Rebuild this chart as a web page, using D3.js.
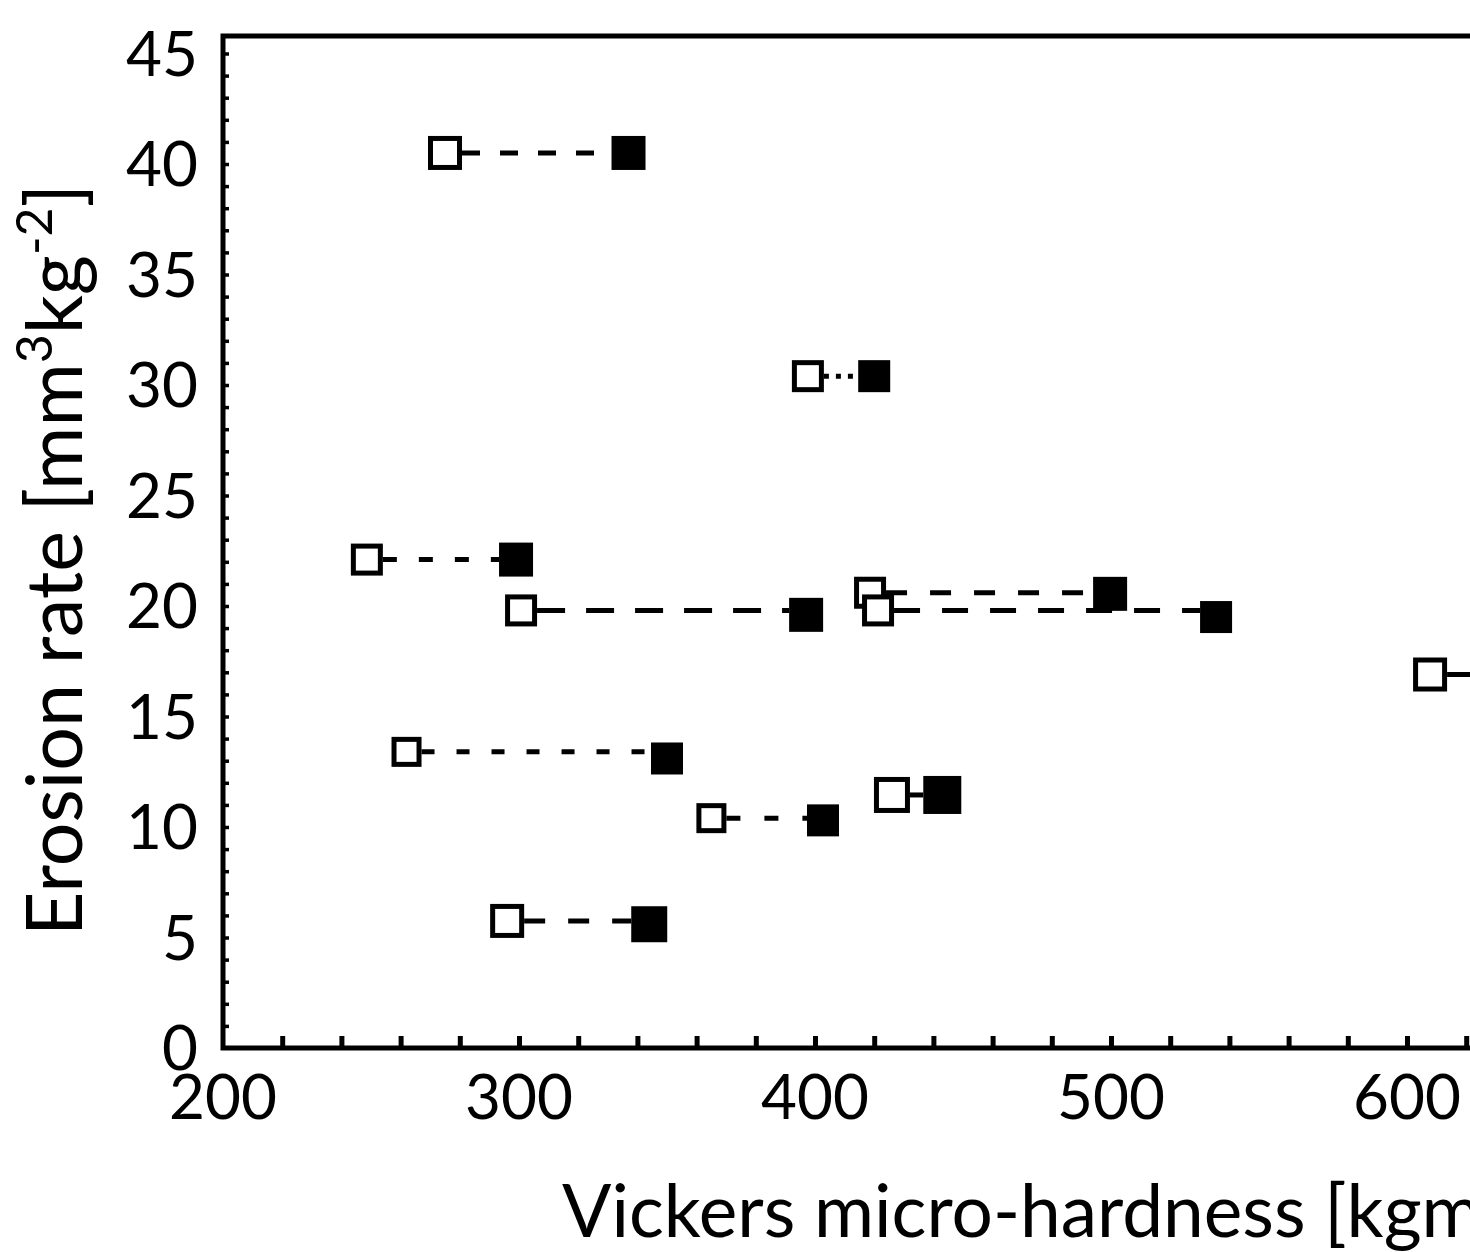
<!DOCTYPE html>
<html><head><meta charset="utf-8">
<script src="https://cdn.jsdelivr.net/npm/d3@7"></script>
<style>body{margin:0;background:#fff}svg{display:block}</style>
</head><body>
<svg id="c" width="1470" height="1252"></svg>
<script>
(function(){
// ---- data ----
const openX   = [275, 397.6, 248.6, 300.7, 418.6, 421.3, 607.8, 262, 365, 426, 296];
const openY   = [40.5, 30.4, 22.1, 19.8, 20.6, 19.8, 16.9, 13.4, 10.4, 11.45, 5.75];
const filledX = [337, 420, 299, 397, 499.7, 535.5, 660, 350, 402.7, 443, 344];
const filledY = [40.5, 30.4, 22.1, 19.6, 20.55, 19.5, 16.9, 13.1, 10.3, 11.45, 5.6];
const xTickLabels = [200, 300, 400, 500, 600];
const yTickLabels = [0, 5, 10, 15, 20, 25, 30, 35, 40, 45];
const xMinorTicks = d3.range(220, 700, 20);
const yMinorTicks = d3.range(1, 46, 1);
const xTitle = "Vickers micro-hardness [kgmm";
// ---- styles ----
const dashes = ["18,20", "5,7", "14,22", "28,21", "21,23", "26,22", "none", "13,22", "14,24", "none", "21,23"];
const openSize = [34, 32, 32, 32, 32, 32, 34, 30, 30, 36, 34];
const fillSize = [34, 32, 34, 34, 34, 32, 34, 32, 32, 38, 36];

const svg = d3.select("#c");
const left = 223, bottom = 1048, topY = 36;
const x = d3.scaleLinear().domain([200, 700]).range([left, left + 500 * 2.96]);
const y = d3.scaleLinear().domain([0, 45]).range([bottom, bottom - 45 * 22.1]);
const font = "Lato, 'Open Sans', sans-serif";

// frame
const frame = svg.append("g").attr("stroke", "#000").attr("stroke-width", 5).attr("fill", "none");
frame.append("path").attr("d", `M${left},${topY}H1475M${left},${topY}V${bottom}H1475`).attr("stroke-linecap", "square");

// x minor ticks (inward, up)
const xAxis = d3.axisBottom(x).tickValues(xMinorTicks).tickSize(-12).tickFormat("");
const gx = svg.append("g").attr("transform", `translate(0,${bottom})`).call(xAxis);
gx.select(".domain").remove();
gx.selectAll(".tick line").attr("stroke", "#000").attr("stroke-width", 5);

// y minor ticks (inward, right)
const yAxis = d3.axisLeft(y).tickValues(yMinorTicks).tickSize(-6).tickFormat("");
const gy = svg.append("g").attr("transform", `translate(${left},0)`).call(yAxis);
gy.select(".domain").remove();
gy.selectAll(".tick line").attr("stroke", "#000").attr("stroke-width", 3.5);

// x labels
svg.append("g").selectAll("text").data(xTickLabels).join("text")
  .attr("x", d => x(d)).attr("y", 1119)
  .attr("text-anchor", "middle").attr("font-family", font).attr("font-size", 62)
  .text(d => d);

// y labels
svg.append("g").selectAll("text").data(yTickLabels).join("text")
  .attr("x", 198).attr("y", d => Math.max(y(d), topY) + 22)
  .attr("text-anchor", "end").attr("font-family", font).attr("font-size", 62)
  .text(d => d);

// axis titles
svg.append("text").attr("x", 562).attr("y", 1237)
  .attr("font-family", font).attr("font-size", 73).text(xTitle);

const yt = svg.append("text").attr("transform", "translate(82,560) rotate(-90)")
  .attr("text-anchor", "middle").attr("font-family", font).attr("font-size", 77);
yt.append("tspan").text("Erosion rate [mm");
yt.append("tspan").attr("baseline-shift", "super").attr("font-size", 50).text("3");
yt.append("tspan").text("kg");
yt.append("tspan").attr("baseline-shift", "super").attr("font-size", 50).text("-2");
yt.append("tspan").text("]");

// connecting lines
const idx = d3.range(openX.length);
svg.append("g").selectAll("line").data(idx).join("line")
  .attr("x1", i => x(openX[i]) + openSize[i] / 2)
  .attr("x2", i => x(filledX[i]) - fillSize[i] / 2)
  .attr("y1", i => y(openY[i])).attr("y2", i => y(openY[i]))
  .attr("stroke", "#000").attr("stroke-width", 5)
  .attr("stroke-dasharray", i => dashes[i]);

// open squares
svg.append("g").selectAll("rect").data(idx).join("rect")
  .attr("x", i => x(openX[i]) - openSize[i] / 2 + 2.5)
  .attr("y", i => y(openY[i]) - openSize[i] / 2 + 2.5)
  .attr("width", i => openSize[i] - 5).attr("height", i => openSize[i] - 5)
  .attr("fill", "#fff").attr("stroke", "#000").attr("stroke-width", 5);

// filled squares
svg.append("g").selectAll("rect").data(idx).join("rect")
  .attr("x", i => x(filledX[i]) - fillSize[i] / 2)
  .attr("y", i => y(filledY[i]) - fillSize[i] / 2)
  .attr("width", i => fillSize[i]).attr("height", i => fillSize[i])
  .attr("fill", "#000");
})();
</script>
</body></html>
